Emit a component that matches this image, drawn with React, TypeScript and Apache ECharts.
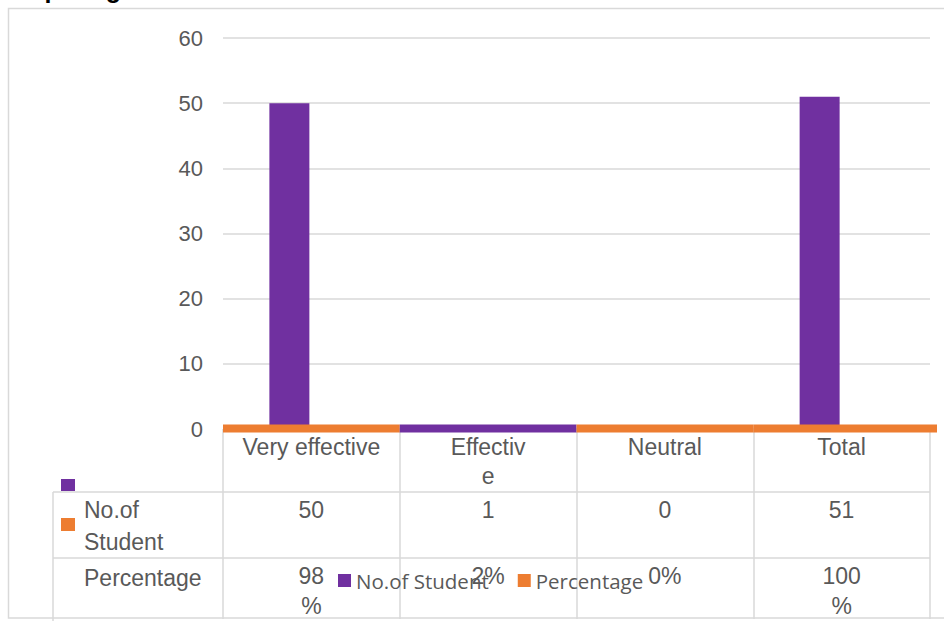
import React, { useEffect, useRef } from "react";
import * as echarts from "echarts";

const categories = ["Very effective", "Effective", "Neutral", "Total"];
const headerLabels = ["Very effective", "Effectiv\ne", "Neutral", "Total"];
const studentCounts = [50, 1, 0, 51];
const percentages = [98, 2, 0, 100];
const percentLabels = ["98\n%", "2%", "0%", "100\n%"];
const seriesNames = ["No.of Student", "Percentage"];
const rowLabels = ["No.of\nStudent", "Percentage"];
const yMin = 0;
const yMax = 60;
const yInterval = 10;
const titleText = "Comparing";

const PURPLE = "#7030a0";
const ORANGE = "#ed7d31";
const GRAY = "#d9d9d9";
const TXT = "#595959";
const stripColors = [ORANGE, PURPLE, ORANGE, ORANGE];
const TABLE_FONT = "'Liberation Sans', Arial, sans-serif";
const FS = 23;

export default function App() {
  const ref = useRef<HTMLDivElement>(null);
  useEffect(() => {
    if (!ref.current) return;
    const chart = echarts.init(ref.current, undefined, { renderer: "svg" });
    const rowAxis = (data: string[], offset: number) => ({
      type: "category",
      data,
      position: "bottom",
      offset,
      axisLine: { show: false },
      axisTick: { show: false },
      axisPointer: { show: false },
      axisLabel: {
        interval: 0,
        margin: 0,
        fontSize: FS,
        lineHeight: 30,
        color: TXT,
        fontFamily: TABLE_FONT,
      },
    });
    chart.setOption({
      animation: false,
      grid: { left: 223, right: 14, top: 38, bottom: 190, containLabel: false },
      legend: {
        data: seriesNames,
        left: 333,
        top: 565,
        icon: "rect",
        itemWidth: 13,
        itemHeight: 13,
        itemGap: 29,
        textStyle: { fontFamily: "'Open Sans', sans-serif", fontSize: 20.5, color: TXT },
      },
      xAxis: [
        {
          type: "category",
          data: categories,
          position: "bottom",
          axisLine: { show: false },
          axisTick: { show: true, length: 190, interval: 0, lineStyle: { color: GRAY, width: 1.5 } },
          axisLabel: {
            interval: 0,
            margin: 3.5,
            fontSize: FS,
            lineHeight: 29,
            color: TXT,
            fontFamily: TABLE_FONT,
            formatter: (_v: string, i: number) => headerLabels[i],
          },
        },
        rowAxis(studentCounts.map(String), 66),
        rowAxis(percentLabels, 132),
      ],
      yAxis: [
        {
          type: "value",
          min: yMin,
          max: yMax,
          interval: yInterval,
          axisLine: { show: false },
          axisTick: { show: false },
          splitLine: { lineStyle: { color: GRAY, width: 1.5 } },
          axisLabel: { margin: 20, fontSize: 22, color: TXT, fontFamily: TABLE_FONT },
        },
        {
          type: "value",
          min: 0,
          max: 100,
          show: false,
          splitLine: { show: false },
        },
      ],
      series: [
        {
          name: seriesNames[0],
          type: "bar",
          data: studentCounts.map((v, i) =>
            stripColors[i] === PURPLE ? { value: v, itemStyle: { opacity: 0 } } : v
          ),
          barWidth: 40,
          barGap: "10%",
          itemStyle: { color: PURPLE },
          z: 2,
        },
        {
          name: seriesNames[1],
          type: "bar",
          yAxisIndex: 1,
          data: percentages.map((p) => p / 100),
          barWidth: 40,
          itemStyle: { color: ORANGE },
          z: 2,
        },
        {
          name: "strip",
          type: "custom",
          z: 4,
          clip: false,
          data: categories.map((_c, i) => [i]),
          renderItem: (params: any, api: any) => {
            const p = api.coord([api.value(0), 0]);
            const w = api.size([1, 0])[0];
            const last = params.dataIndex === categories.length - 1;
            return {
              type: "rect",
              shape: { x: p[0] - w / 2, y: p[1] - 4.5, width: w + (last ? 7 : 0), height: 8 },
              style: { fill: stripColors[params.dataIndex] },
            };
          },
        },
      ],
      graphic: [
        {
          type: "text",
          left: -11,
          top: -24,
          style: {
            text: titleText,
            fontSize: 25,
            fontWeight: "bold",
            fill: "#000",
            fontFamily: TABLE_FONT,
          },
        },
        {
          type: "rect",
          shape: { x: 8.5, y: 8.5, width: 1000, height: 609.5 },
          style: { fill: "none", stroke: GRAY, lineWidth: 1.5 },
        },
        {
          type: "line",
          shape: { x1: 53, y1: 492, x2: 930, y2: 492 },
          style: { stroke: GRAY, lineWidth: 1.5 },
        },
        {
          type: "line",
          shape: { x1: 53, y1: 558, x2: 930, y2: 558 },
          style: { stroke: GRAY, lineWidth: 1.5 },
        },
        {
          type: "line",
          shape: { x1: 53, y1: 492, x2: 53, y2: 621 },
          style: { stroke: GRAY, lineWidth: 1.5 },
        },
        {
          type: "rect",
          shape: { x: 61, y: 479, width: 14, height: 12 },
          style: { fill: PURPLE },
        },
        {
          type: "rect",
          shape: { x: 61, y: 518, width: 14, height: 13 },
          style: { fill: ORANGE },
        },
        {
          type: "text",
          left: 84,
          top: 494,
          style: {
            text: rowLabels[0],
            fontSize: FS,
            lineHeight: 32,
            fill: TXT,
            fontFamily: TABLE_FONT,
          },
        },
        {
          type: "text",
          left: 84,
          top: 563,
          style: {
            text: rowLabels[1],
            fontSize: FS,
            lineHeight: 30,
            fill: TXT,
            fontFamily: TABLE_FONT,
          },
        },
      ],
    });
    return () => chart.dispose();
  }, []);
  return (
    <div
      ref={ref}
      style={{ position: "absolute", left: 0, top: 0, width: 944, height: 621 }}
    />
  );
}
